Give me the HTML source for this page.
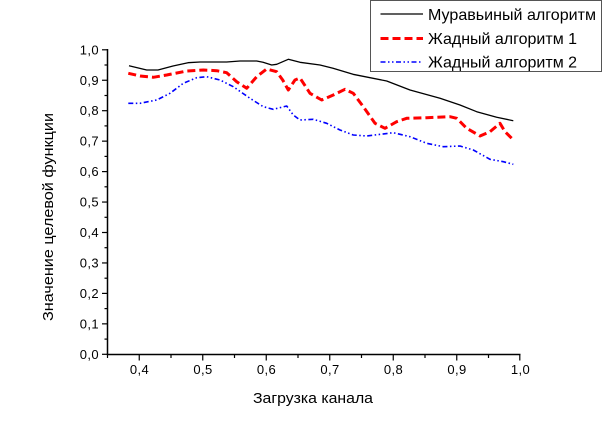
<!DOCTYPE html>
<html><head><meta charset="utf-8"><style>
html,body{margin:0;padding:0;background:#fff;}
svg{display:block;}
text{font-family:"Liberation Sans",Arial,sans-serif;fill:#000;}
</style></head><body>
<svg width="604" height="424" viewBox="0 0 604 424" xmlns="http://www.w3.org/2000/svg">
<rect width="604" height="424" fill="#fff"/>
<!-- axes -->
<g stroke="#000" stroke-width="1.5" fill="none">
<line x1="107.5" y1="49" x2="107.5" y2="355"/>
<line x1="106.8" y1="354.5" x2="520.5" y2="354.5"/>
</g>
<!-- y ticks -->
<g stroke="#000" stroke-width="1.2">
<line x1="102" y1="354.3" x2="107.5" y2="354.3"/>
<line x1="102" y1="323.85" x2="107.5" y2="323.85"/>
<line x1="102" y1="293.4" x2="107.5" y2="293.4"/>
<line x1="102" y1="262.95" x2="107.5" y2="262.95"/>
<line x1="102" y1="232.5" x2="107.5" y2="232.5"/>
<line x1="102" y1="202.05" x2="107.5" y2="202.05"/>
<line x1="102" y1="171.6" x2="107.5" y2="171.6"/>
<line x1="102" y1="141.15" x2="107.5" y2="141.15"/>
<line x1="102" y1="110.7" x2="107.5" y2="110.7"/>
<line x1="102" y1="80.25" x2="107.5" y2="80.25"/>
<line x1="102" y1="49.8" x2="107.5" y2="49.8"/>
<line x1="104.5" y1="339.1" x2="107.5" y2="339.1"/>
<line x1="104.5" y1="308.6" x2="107.5" y2="308.6"/>
<line x1="104.5" y1="278.2" x2="107.5" y2="278.2"/>
<line x1="104.5" y1="247.7" x2="107.5" y2="247.7"/>
<line x1="104.5" y1="217.3" x2="107.5" y2="217.3"/>
<line x1="104.5" y1="186.8" x2="107.5" y2="186.8"/>
<line x1="104.5" y1="156.4" x2="107.5" y2="156.4"/>
<line x1="104.5" y1="125.9" x2="107.5" y2="125.9"/>
<line x1="104.5" y1="95.5" x2="107.5" y2="95.5"/>
<line x1="104.5" y1="65" x2="107.5" y2="65"/>
</g>
<!-- x ticks -->
<g stroke="#000" stroke-width="1.2">
<line x1="139.25" y1="354.5" x2="139.25" y2="360.5"/>
<line x1="202.75" y1="354.5" x2="202.75" y2="360.5"/>
<line x1="266.25" y1="354.5" x2="266.25" y2="360.5"/>
<line x1="329.75" y1="354.5" x2="329.75" y2="360.5"/>
<line x1="393.25" y1="354.5" x2="393.25" y2="360.5"/>
<line x1="456.75" y1="354.5" x2="456.75" y2="360.5"/>
<line x1="519.8" y1="354.5" x2="519.8" y2="360.5"/>
<line x1="107.5" y1="354.5" x2="107.5" y2="358"/>
<line x1="171" y1="354.5" x2="171" y2="358"/>
<line x1="234.5" y1="354.5" x2="234.5" y2="358"/>
<line x1="298" y1="354.5" x2="298" y2="358"/>
<line x1="361.5" y1="354.5" x2="361.5" y2="358"/>
<line x1="425" y1="354.5" x2="425" y2="358"/>
<line x1="488.5" y1="354.5" x2="488.5" y2="358"/>
</g>
<!-- y labels -->
<g font-size="13" text-anchor="end" letter-spacing="0.4">
<text x="99" y="358.8">0,0</text>
<text x="99" y="328.4">0,1</text>
<text x="99" y="297.9">0,2</text>
<text x="99" y="267.5">0,3</text>
<text x="99" y="237">0,4</text>
<text x="99" y="206.6">0,5</text>
<text x="99" y="176.1">0,6</text>
<text x="99" y="145.7">0,7</text>
<text x="99" y="115.2">0,8</text>
<text x="99" y="84.8">0,9</text>
<text x="99" y="54.3">1,0</text>
</g>
<!-- x labels -->
<g font-size="13" text-anchor="middle" letter-spacing="0.4">
<text x="139.5" y="374">0,4</text>
<text x="203" y="374">0,5</text>
<text x="266.5" y="374">0,6</text>
<text x="330" y="374">0,7</text>
<text x="393.5" y="374">0,8</text>
<text x="457" y="374">0,9</text>
<text x="520.5" y="374">1,0</text>
</g>
<!-- axis titles -->
<text x="313" y="403" font-size="15" text-anchor="middle" textLength="120" lengthAdjust="spacingAndGlyphs">Загрузка канала</text>
<text transform="translate(53,217) rotate(-90)" x="0" y="0" font-size="15" text-anchor="middle" textLength="208" lengthAdjust="spacingAndGlyphs">Значение целевой функции</text>
<!-- series -->
<polyline fill="none" stroke="#000" stroke-width="1.3" stroke-linejoin="round" points="129,65.7 146.7,70 158,70 173,66 188,62.7 200,62 226.7,62 240,61 256.7,61 263,62.3 271.7,65 276.7,64.3 288.3,59.3 300,62.3 320,65 333,68.3 353,74.3 386.7,81 410,90 440,98.3 460,105 476.7,111.7 496.7,117.3 513.3,120.7"/>
<polyline fill="none" stroke="#ff0000" stroke-width="3" stroke-dasharray="8,4" stroke-linejoin="round" points="128.3,73.3 140,76 153.3,77.3 166.7,75 186.7,71 203.3,70 216.7,70.7 226.7,72.7 236.7,81.7 246.7,88.3 256.7,76.7 266.7,69 276.7,71.7 282.7,80 288.3,90 295,80 300,78 310,93.3 321.7,100 333.3,95 345,89.3 353.3,93.3 363.3,106.7 375,123.3 385,128.3 396.7,121.7 406.7,118.3 426.7,117.7 450,116.7 456.7,118.3 466.7,128.3 480,136 490,131.7 500,123.3 505,131.7 511.7,138.3"/>
<polyline fill="none" stroke="#0000ff" stroke-width="1.6" stroke-dasharray="5,2.5,1.5,2.5,1.5,2.5" stroke-linejoin="round" points="128.3,103.3 140,103.3 156.7,100 170,93.3 183.3,83.3 196.7,77.7 206.7,76.7 220,80 233.3,86.7 250,98.3 263.3,106.7 273.3,109.3 286.7,106 293.3,115 300,120 313.3,119.3 326.7,123.3 340,130 353.3,135 366.7,136 393.3,132.7 410,136.7 426.7,143.3 443.3,146.7 460,146 473.3,150 490,159.3 503.3,161.7 513.3,164.3"/>
<!-- legend -->
<rect x="370.5" y="0.5" width="231" height="71" fill="#fff" stroke="#555" stroke-width="1"/>
<line x1="380.5" y1="14" x2="423" y2="14" stroke="#000" stroke-width="1.3"/>
<line x1="380.5" y1="38.5" x2="423" y2="38.5" stroke="#ff0000" stroke-width="3" stroke-dasharray="8,4"/>
<line x1="380.5" y1="62" x2="423" y2="62" stroke="#0000ff" stroke-width="1.6" stroke-dasharray="5,2.5,1.5,2.5,1.5,2.5"/>
<g font-size="16">
<text x="428" y="20" textLength="168" lengthAdjust="spacingAndGlyphs">Муравьиный алгоритм</text>
<text x="428" y="44">Жадный алгоритм 1</text>
<text x="428" y="67.5">Жадный алгоритм 2</text>
</g>
</svg>
</body></html>
